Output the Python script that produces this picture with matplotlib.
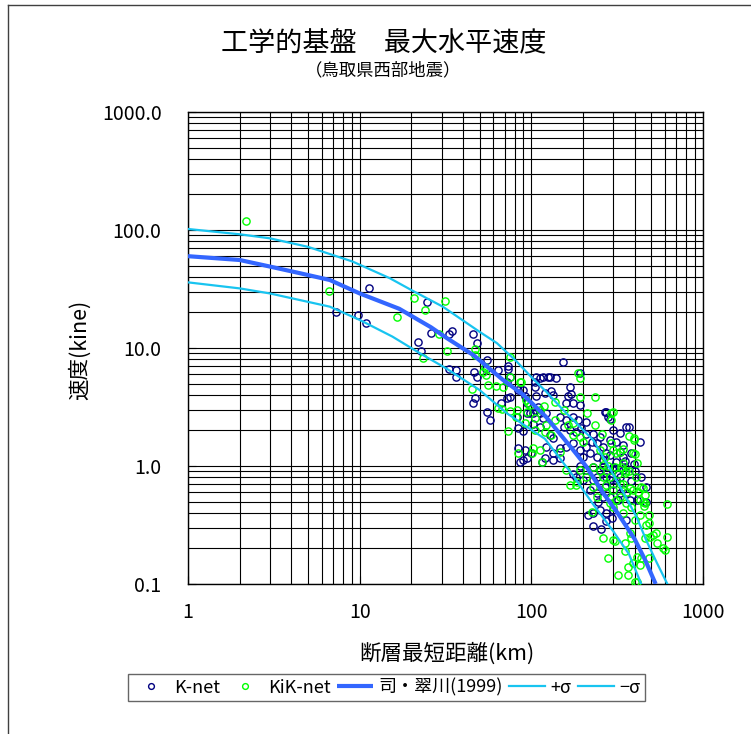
import matplotlib
matplotlib.use("Agg")
import matplotlib.pyplot as plt
from matplotlib.ticker import FuncFormatter, NullFormatter, LogLocator
from matplotlib.lines import Line2D

# K-net stations: (fault distance km, peak velocity kine)
knet = [
    (11.3, 32.4), (7.3, 20.3), (9.8, 18.9), (10.9, 16.4), (24.7, 24.5), (21.8, 11.3),
    (22.8, 9.4), (26, 13.3), (33, 13.1), (34.6, 14.0), (33.1, 6.6), (36.4, 6.5),
    (36.4, 5.65), (45.5, 13.1), (46.3, 6.2), (47.1, 3.75), (45.5, 3.44), (48, 11), (48, 5.7),
    (55.1, 7.9), (54.4, 6.7), (63.9, 6.5), (73.1, 7.0), (75, 5.7), (72.1, 5.15), (83.6, 4.4),
    (89.3, 4.4), (104.9, 5.15), (104.9, 4.67), (117, 5.7), (72.1, 3.77), (75, 3.85), (67, 3.45),
    (55.1, 2.87), (57.4, 2.45), (82, 2.6), (83.6, 2.1), (89.3, 1.98), (98.1, 2.81), (104.9, 2.98),
    (109, 3.16), (117, 2.55), (122, 2.81), (83.6, 1.42), (73.5, 6.6), (85.8, 1.09), (89.3, 1.12),
    (94, 1.17), (120, 1.17), (122, 1.46), (133.6, 1.29), (152.8, 7.6), (112, 5.55), (125, 5.7),
    (139, 5.6), (168, 4.7), (171, 4.1), (273, 2.87), (287, 2.5), (371, 2.14), (428, 1.6),
    (106.5, 5.7), (128, 5.7), (192, 6.1), (92, 3.9), (94, 3.4), (106.5, 3.9), (120, 4.16),
    (130, 4.3), (133.6, 4.0), (164, 3.9), (160, 3.4), (175, 3.4), (192, 3.29), (94, 2.81),
    (102, 2.81), (112, 2.81), (102, 2.27), (112, 2.16), (128, 1.83), (147, 2.6), (160, 2.45),
    (175, 2.6), (187, 2.45), (209, 2.37), (154, 2.16), (168, 2.02), (183, 1.94), (195, 2.1),
    (209, 1.88), (229, 1.88), (268, 2.89), (281, 2.6), (241, 1.56), (262, 1.46), (287, 1.66),
    (313, 1.6), (343, 1.51), (358, 2.16), (133.6, 1.72), (147, 1.42), (160, 1.46), (175, 1.56),
    (192, 1.37), (209, 1.46), (219.5, 1.28), (241, 1.2), (262, 1.12), (287, 1.24), (313, 1.09),
    (343, 1.2), (92, 1.37), (100, 1.29), (115, 1.09), (133.6, 1.12), (147, 1.17), (192, 1.0),
    (209, 0.925), (251, 0.925), (273, 0.87), (300, 0.925), (328, 0.81), (183, 0.81), (241, 0.81),
    (396, 1.04), (273, 1.29), (328, 1.32), (466, 0.66), (437, 0.8), (343, 0.925), (262, 0.99),
    (287, 0.76), (358, 0.59), (410, 0.515), (466, 0.5), (351, 0.99), (229, 0.99), (300, 0.99),
    (175, 0.86), (200, 0.76), (229, 0.76), (273, 0.81), (313, 0.76), (219.5, 0.63), (241, 0.59),
    (262, 0.55), (287, 0.55), (328, 0.59), (229, 0.4), (251, 0.42), (273, 0.4), (300, 0.42),
    (294, 0.36), (273, 0.34), (256, 0.29), (358, 0.35), (213, 0.385), (375, 0.515),
    (230, 0.31), (245, 0.5), (270, 0.66), (300, 0.7), (320, 0.52), (340, 0.64), (380, 0.75),
    (350, 1.1), (380, 1.3), (200, 1.2), (225, 1.6), (250, 1.75), (300, 2.0), (330, 1.9), (400, 0.9),
]

# KiK-net stations
kiknet = [
    (2.17, 119), (6.65, 30.4), (20.8, 26.4), (24, 21), (31.5, 25.2), (16.6, 18.2), (29.1, 13.1),
    (46.9, 9.9), (23.3, 8.2), (32.1, 9.4), (44.9, 4.47), (53.7, 6.9), (52.4, 6.25), (54.4, 5.9),
    (56, 4.9), (62.6, 4.75), (68, 4.67), (75, 8.4), (75, 5.7), (85.8, 5.15), (93, 3.6), (96, 3.4),
    (63.9, 3.12), (67.4, 3.04), (75.6, 2.95), (82, 2.98), (81.3, 2.58), (94, 2.87), (105, 2.55),
    (112, 2.98), (73, 1.99), (105, 2.02), (122, 2.22), (102, 1.42), (46.9, 8.7), (101, 1.29),
    (115, 1.09), (187, 6.1), (192, 5.6), (234, 3.85), (300, 2.89), (617, 0.48), (616, 0.25),
    (280, 0.166), (320, 0.119), (366, 0.119), (401, 0.104), (583, 0.2), (510, 0.26), (538, 0.222),
    (465, 0.316), (491, 0.25), (351, 0.222), (391, 0.15), (300, 0.236), (261, 0.245),
    (87.6, 5.15), (98, 3.29), (92, 2.3), (118, 3.2), (137, 3.48), (154, 2.98), (192, 3.85),
    (211, 2.82), (292, 2.82), (292, 2.45), (234, 2.22), (175, 2.3), (164, 2.22), (137, 2.45),
    (120, 1.95), (130, 1.83), (192, 1.76), (175, 1.83), (200, 1.6), (251, 1.37), (268, 1.2),
    (300, 1.37), (328, 1.32), (112, 1.37), (147, 1.32), (229, 0.99), (262, 1.02), (307, 0.99),
    (335, 0.99), (287, 0.81), (209, 0.81), (160, 0.925), (192, 0.925), (351, 0.87), (313, 1.29),
    (371, 1.81), (396, 1.72), (259, 1.88), (292, 1.57), (390, 1.29), (340, 1.38), (406, 0.81),
    (437, 0.66), (459, 0.57), (356, 0.9), (328, 0.71), (391, 0.63), (273, 0.59), (313, 0.515),
    (447, 0.5), (410, 1.05), (168, 0.69), (183, 0.69), (229, 0.67), (273, 0.69), (343, 0.71),
    (375, 0.65), (447, 0.65), (328, 0.55), (428, 0.515), (459, 0.49), (358, 0.49), (225, 0.41),
    (287, 0.49), (343, 0.4), (428, 0.385), (482, 0.33), (307, 0.23), (383, 0.245), (375, 0.27),
    (459, 0.245), (351, 0.19), (410, 0.17), (482, 0.166), (600, 0.194), (366, 0.14), (428, 0.145),
    (412, 0.104), (437, 0.166), (533, 0.27), (482, 0.385), (452, 0.46), (400, 1.27), (395, 1.66),
    (370, 0.905), (84, 1.29), (185, 0.73), (240, 0.55), (260, 0.8), (280, 1.0), (300, 0.62),
    (320, 0.85), (340, 1.05), (360, 0.6), (380, 0.45), (420, 0.6), (400, 0.35), (300, 0.45),
    (250, 0.9),
]

# Si & Midorikawa (1999) attenuation curve
mean_dist = [1, 2, 3, 4.5, 6.7, 10, 17, 26, 32, 46, 68, 90, 122, 175, 209, 260, 318, 400, 460, 530]
mean_vel = [60, 55.7, 49, 43, 37.7, 29, 21.5, 15, 12.2, 8.7, 5.4, 4.0, 2.6, 1.37, 0.99, 0.6, 0.40, 0.24, 0.16, 0.1]

plus_dist = [1, 2, 3, 5, 9.1, 15, 20.4, 30.5, 50, 63, 82, 102, 122, 147, 230, 320, 410, 470, 540, 620]
plus_vel = [102, 92, 85, 72, 54, 39, 30.5, 22.4, 13.7, 11, 7.7, 5.5, 4.27, 3.18, 1.65, 0.72, 0.37, 0.23, 0.15, 0.1]

minus_dist = [1, 2, 3, 6.7, 10, 15.5, 22.5, 32, 50, 72, 94, 120, 176, 230, 300, 370, 437]
minus_vel = [36, 32, 29, 22.4, 17.3, 12.5, 9.0, 6.7, 4.4, 2.8, 2.15, 1.7, 0.82, 0.47, 0.28, 0.18, 0.1]

plt.rcParams['font.family'] = ['Noto Sans CJK JP', 'DejaVu Sans']

W, H = 751, 734
fig = plt.figure(figsize=(W / 100, H / 100), dpi=100)
ax = fig.add_axes([188 / W, 1 - 584 / H, (703 - 188) / W, (584 - 112) / H])

ax.set_xscale('log')
ax.set_yscale('log')
ax.set_xlim(1, 1000)
ax.set_ylim(0.1, 1000)
ax.set_axisbelow(True)
ax.grid(True, which='both', color='black', lw=0.8)

kx = [p[0] for p in knet]
ky = [p[1] for p in knet]
gx = [p[0] for p in kiknet]
gy = [p[1] for p in kiknet]

h1, = ax.plot(kx, ky, 'o', ms=5.2, mfc='none', mec='#000080', mew=1.0, zorder=3)
h2, = ax.plot(gx, gy, 'o', ms=5.2, mfc='none', mec='#00ff00', mew=1.0, zorder=3)
h3, = ax.plot(mean_dist, mean_vel, color='#3366ff', lw=3.0, zorder=4, solid_capstyle='butt')
h4, = ax.plot(plus_dist, plus_vel, color='#18c4f0', lw=1.6, zorder=4)
h5, = ax.plot(minus_dist, minus_vel, color='#18c4f0', lw=1.6, zorder=4)

ax.xaxis.set_major_locator(LogLocator(base=10))
ax.yaxis.set_major_locator(LogLocator(base=10))
ax.xaxis.set_minor_formatter(NullFormatter())
ax.yaxis.set_minor_formatter(NullFormatter())
ax.xaxis.set_major_formatter(FuncFormatter(lambda v, p: f'{v:g}'))
ax.yaxis.set_major_formatter(FuncFormatter(lambda v, p: f'{v:.1f}'))
ax.tick_params(which='major', direction='in', length=6, labelsize=14, color='black')
ax.tick_params(which='minor', length=0)
ax.tick_params(axis='x', pad=13)
ax.tick_params(axis='y', pad=19)
for s in ax.spines.values():
    s.set_color('black')
    s.set_linewidth(1.0)

fig.text(384 / W, 1 - 43 / H, '工学的基盤　最大水平速度', ha='center', va='center', fontsize=19.5)
fig.text(383 / W, 1 - 70 / H, '（鳥取県西部地震）', ha='center', va='center', fontsize=12.5)
fig.text(80 / W, 1 - 350 / H, '速度(kine)', rotation=90, ha='center', va='center', fontsize=15.5)
fig.text(447 / W, 1 - 654 / H, '断層最短距離(km)', ha='center', va='center', fontsize=15.5)

leg = fig.legend([h1, h2, h3, h4, h5], ['K-net', 'KiK-net', '司・翠川(1999)', '+σ', '−σ'],
                 loc='center', bbox_to_anchor=(386.5 / W, 1 - 687.5 / H), ncol=5,
                 frameon=True, fancybox=False, edgecolor='#404040', fontsize=13,
                 handlelength=2.0, handletextpad=0.3, columnspacing=0.35, borderpad=0.25,
                 markerscale=0.8)
leg.get_frame().set_linewidth(1.0)

# outer chart border (left and top edges visible)
fig.add_artist(Line2D([8 / W, 8 / W], [0, 1 - 5 / H], transform=fig.transFigure, color='#404040', lw=1))
fig.add_artist(Line2D([8 / W, 1], [1 - 5 / H, 1 - 5 / H], transform=fig.transFigure, color='#404040', lw=1))

fig.savefig('out.png', dpi=100)
